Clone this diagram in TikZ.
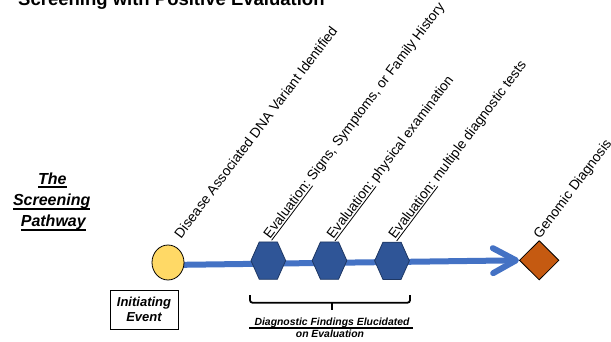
\documentclass[tikz,border=0pt]{standalone}
\usepackage{fontspec}
\setmainfont{Liberation Sans}
\usetikzlibrary{shapes.geometric,shapes.symbols,arrows.meta}
\definecolor{cyel}{HTML}{FFD966}
\definecolor{cblue}{HTML}{4472C4}
\definecolor{chex}{HTML}{2F5597}
\definecolor{chexb}{HTML}{1F3864}
\definecolor{corange}{HTML}{C55A11}
\newbox\ulbox
\newcommand\ulx[3]{\setbox\ulbox\hbox{#3}\rlap{\rule[#1]{\wd\ulbox}{#2}}\box\ulbox}
\pgfdeclarelayer{bg}
\pgfsetlayers{bg,main}
\begin{document}
\begin{tikzpicture}[x=1pt,y=-1pt,
  ttl/.style={font=\fontsize{18.5}{22}\selectfont\bfseries, inner sep=0, anchor=base west},
  pathw/.style={font=\fontsize{16}{20}\selectfont\bfseries\itshape, inner sep=0, anchor=base},
  lab/.style={font=\fontsize{13.8}{16}\selectfont, inner sep=0, anchor=base west, rotate=53},
  hexnode/.style={signal, signal to=east and west, signal pointer angle=132,
    minimum width=34.7pt, minimum height=37.3pt, inner sep=0, fill=chex, draw=chexb, line width=0.8pt},
  flow/.style={cblue, line width=6pt, -{Straight Barb[length=23pt,width=25pt,round]}},
  findings/.style={font=\fontsize{10.4}{12.7}\selectfont\bfseries\itshape, inner sep=0, anchor=base},
  brace/.style={line width=1.8pt, rounded corners=2.5pt}
]
\useasboundingbox (0,0) rectangle (611,341);

\node[ttl] (title) at (18,5) {Screening with Positive Evaluation};

\node[pathw] (pw1) at (52.3,184) {\ulx{-3.8pt}{1.8pt}{The}};
\node[pathw] (pw2) at (51.7,205.7) {\ulx{-3.8pt}{1.8pt}{Screening}};
\node[pathw] (pw3) at (53.3,226.7) {\ulx{-3.8pt}{1.8pt}{Pathway}};

\node[draw, line width=0.8pt, minimum width=68pt, minimum height=39pt, inner sep=0, align=center,
      font=\fontsize{13}{15}\selectfont\bfseries\itshape] (ie) at (144,309.5) {Initiating\\Event};

\node[ellipse, draw, fill=cyel, line width=0.8pt, minimum width=32pt, minimum height=35pt, inner sep=0] (circ) at (168,262.5) {};
\node[hexnode] (h1) at (268.3,260.6) {};
\node[hexnode] (h2) at (329.5,260.6) {};
\node[hexnode] (h3) at (392,260.8) {};
\node[diamond, draw, fill=corange, line width=0.8pt, minimum width=39.6pt, minimum height=39.4pt, inner sep=0] (dia) at (539.2,260.3) {};

\begin{pgfonlayer}{bg}
\draw[flow] ([yshift=-2.5pt]circ.center) -- (dia.west);
\end{pgfonlayer}

\node[lab] (l1) at (181,239.3) {Disease Associated DNA Variant Identified};
\node[lab] (l2) at (270,239.3) {\ulx{-2.3pt}{0.8pt}{Evaluation:} Signs, Symptoms, or Family History};
\node[lab] (l3) at (333.3,240) {\ulx{-2.3pt}{0.8pt}{Evaluation:} physical examination};
\node[lab] (l4) at (395,240) {\ulx{-2.3pt}{0.8pt}{Evaluation:} multiple diagnostic tests};
\node[lab] (l5) at (540,239.3) {Genomic Diagnosis};

\draw[brace] (250,295) -- (250,302.7) -- (410,302.7) -- (410,295);
\draw[line width=1.8pt] (331.7,302.7) -- (331.7,310);

\node[findings] (df1) at (332,325) {Diagnostic Findings Elucidated};
\draw[line width=1.5pt] ([xshift=-5pt,yshift=-2.8pt]df1.base west) -- ([xshift=3pt,yshift=-2.8pt]df1.base east);
\node[findings] (df2) at (330,337.7) {on Evaluation};
\end{tikzpicture}
\end{document}
